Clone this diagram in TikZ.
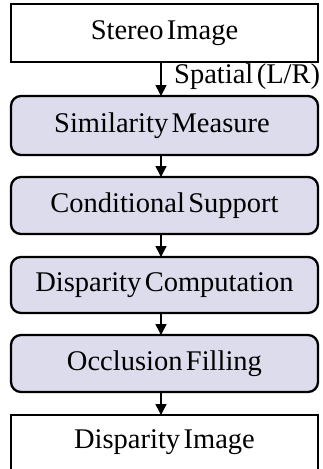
\documentclass[tikz,border=0pt]{standalone}
\usepackage{fontspec}
\setmainfont{Liberation Serif}
\usetikzlibrary{arrows.meta}
\definecolor{stagefill}{RGB}{220,220,236}
\newcommand{\stagefont}{\fontsize{28.5}{31}\selectfont\spaceskip=0.12em\relax}
\tikzset{
  lbl/.style={font=\stagefont},
  plainbox/.style={draw=black, line width=2.3pt, fill=white},
  stagebox/.style={draw=black, line width=2.3pt, fill=stagefill, rounded corners=10pt},
  flow/.style={line width=1.6pt, -{Triangle[width=11pt,length=11pt]}}
}
\begin{document}
\begin{tikzpicture}[x=1pt,y=-1pt]
  \useasboundingbox (0,0) rectangle (323,469);
  \clip (0,0) rectangle (323,469);
  % boxes
  \draw[plainbox] (11,4) rectangle (318,62);
  \draw[stagebox] (11,96) rectangle (318,155);
  \draw[stagebox] (11,177) rectangle (318,234);
  \draw[stagebox] (11,257) rectangle (318,313);
  \draw[stagebox] (11,335) rectangle (318,392);
  \draw[plainbox] (11,415) rectangle (318,480);
  % labels
  \node[lbl] (s0) at (164.5,33) {Stereo Image};
  \node[lbl] (s1) at (162,125.5) {Similarity Measure};
  \node[lbl] (s2) at (164.5,205.5) {Conditional Support};
  \node[lbl] (s3) at (164.5,285) {Disparity Computation};
  \node[lbl] (s4) at (164.5,363.5) {Occlusion Filling};
  \node[lbl] (s5) at (164.5,442) {Disparity Image};
  % anchors on box edges
  \coordinate (b0) at (161,62);  \coordinate (t1) at (161,96);
  \coordinate (b1) at (161,155); \coordinate (t2) at (161,177);
  \coordinate (b2) at (161,234); \coordinate (t3) at (161,257);
  \coordinate (b3) at (161,313); \coordinate (t4) at (161,335);
  \coordinate (b4) at (161,392); \coordinate (t5) at (161,415);
  % arrows
  \draw[flow] (b0) -- (t1);
  \draw[flow] (b1) -- (t2);
  \draw[flow] (b2) -- (t3);
  \draw[flow] (b3) -- (t4);
  \draw[flow] (b4) -- (t5);
  \node[lbl, anchor=west, inner sep=0pt] (sp) at (174,77) {Spatial (L/R)};
\end{tikzpicture}
\end{document}
